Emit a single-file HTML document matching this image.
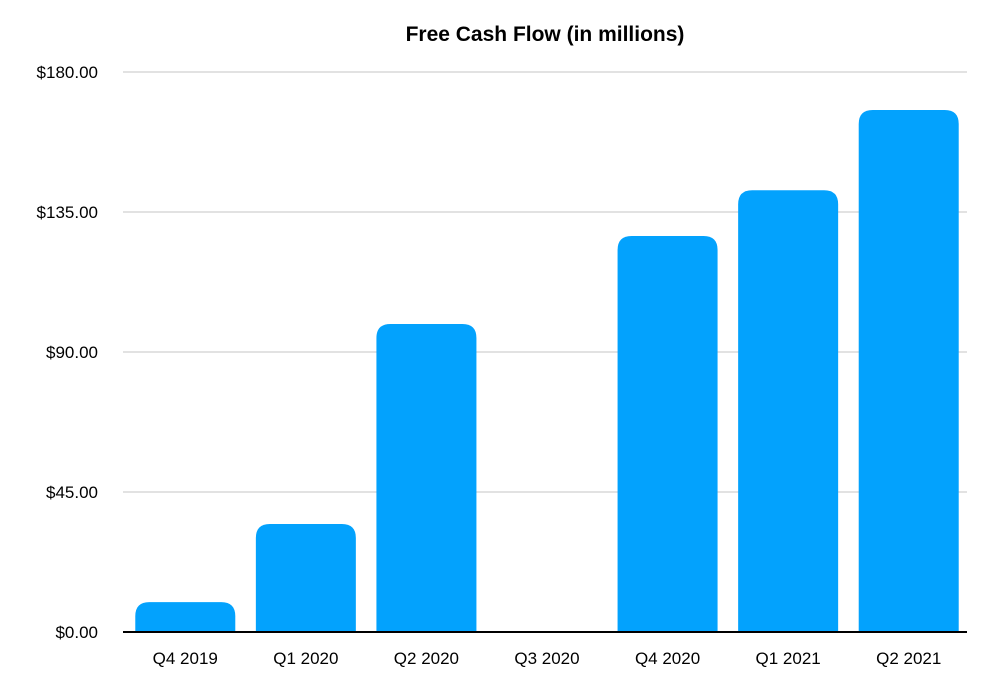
<!DOCTYPE html>
<html><head><meta charset="utf-8"><style>
body{margin:0;background:#fff;}
svg{display:block;font-family:"Liberation Sans",Arial,sans-serif;}
</style></head><body>
<svg id="chart" width="992" height="682" viewBox="0 0 992 682" xmlns="http://www.w3.org/2000/svg">
<rect width="992" height="682" fill="#fff"/>
<text x="545" y="41" text-anchor="middle" font-size="21" font-weight="bold" fill="#000">Free Cash Flow (in millions)</text>
<g id="grid"></g><g id="bars"></g><g id="axes"></g>
</svg>
<script>
const categories=["Q4 2019","Q1 2020","Q2 2020","Q3 2020","Q4 2020","Q1 2021","Q2 2021"];
const values=[9.6,34.7,99,0,127.3,142,167.8];
const tickValues=[0,45,90,135,180];
const tickLabels=["$0.00","$45.00","$90.00","$135.00","$180.00"];
const NS="http://www.w3.org/2000/svg";
const x0=123,x1=967,y0=632,yTop=72,yMax=180;
const slot=(x1-x0)/categories.length,barW=100;
function yScale(v){return y0-(v/yMax)*(y0-yTop);}
function xCenter(i){return x0+slot*(i+0.5)+2;}
function mk(tag,attrs,parent){const e=document.createElementNS(NS,tag);for(const k in attrs)e.setAttribute(k,attrs[k]);parent.appendChild(e);return e;}
const grid=document.getElementById('grid'),bars=document.getElementById('bars'),axes=document.getElementById('axes');
tickValues.forEach((v,i)=>{
 const y=yScale(v);
 if(v!==0){const l=mk('line',{x1:x0,x2:x1,y1:y,y2:y,stroke:'#c4c4c4','stroke-width':1},grid);
 
 }
 const t=mk('text',{x:98,y:y+6,'text-anchor':'end','font-size':17,fill:'#000'},axes);
 t.textContent=tickLabels[i];
 
 
});
categories.forEach((c,i)=>{
 const v=values[i];
 if(v>0){
  const x=xCenter(i)-barW/2,yt=yScale(v),h=y0-yt,r=Math.min(14,h/2,barW/2);
  const d=`M${x},${y0} L${x},${yt+r} Q${x},${yt} ${x+r},${yt} L${x+barW-r},${yt} Q${x+barW},${yt} ${x+barW},${yt+r} L${x+barW},${y0} Z`;
  const p=mk('path',{d:d,fill:'#03A2FD'},bars);
  
  
 }
 const t=mk('text',{x:xCenter(i),y:664,'text-anchor':'middle','font-size':17,fill:'#000'},axes);
 t.textContent=c;
 
 
});
const ax=mk('line',{x1:x0,x2:x1,y1:y0,y2:y0,stroke:'#000','stroke-width':2},axes);


</script>
</body></html>
